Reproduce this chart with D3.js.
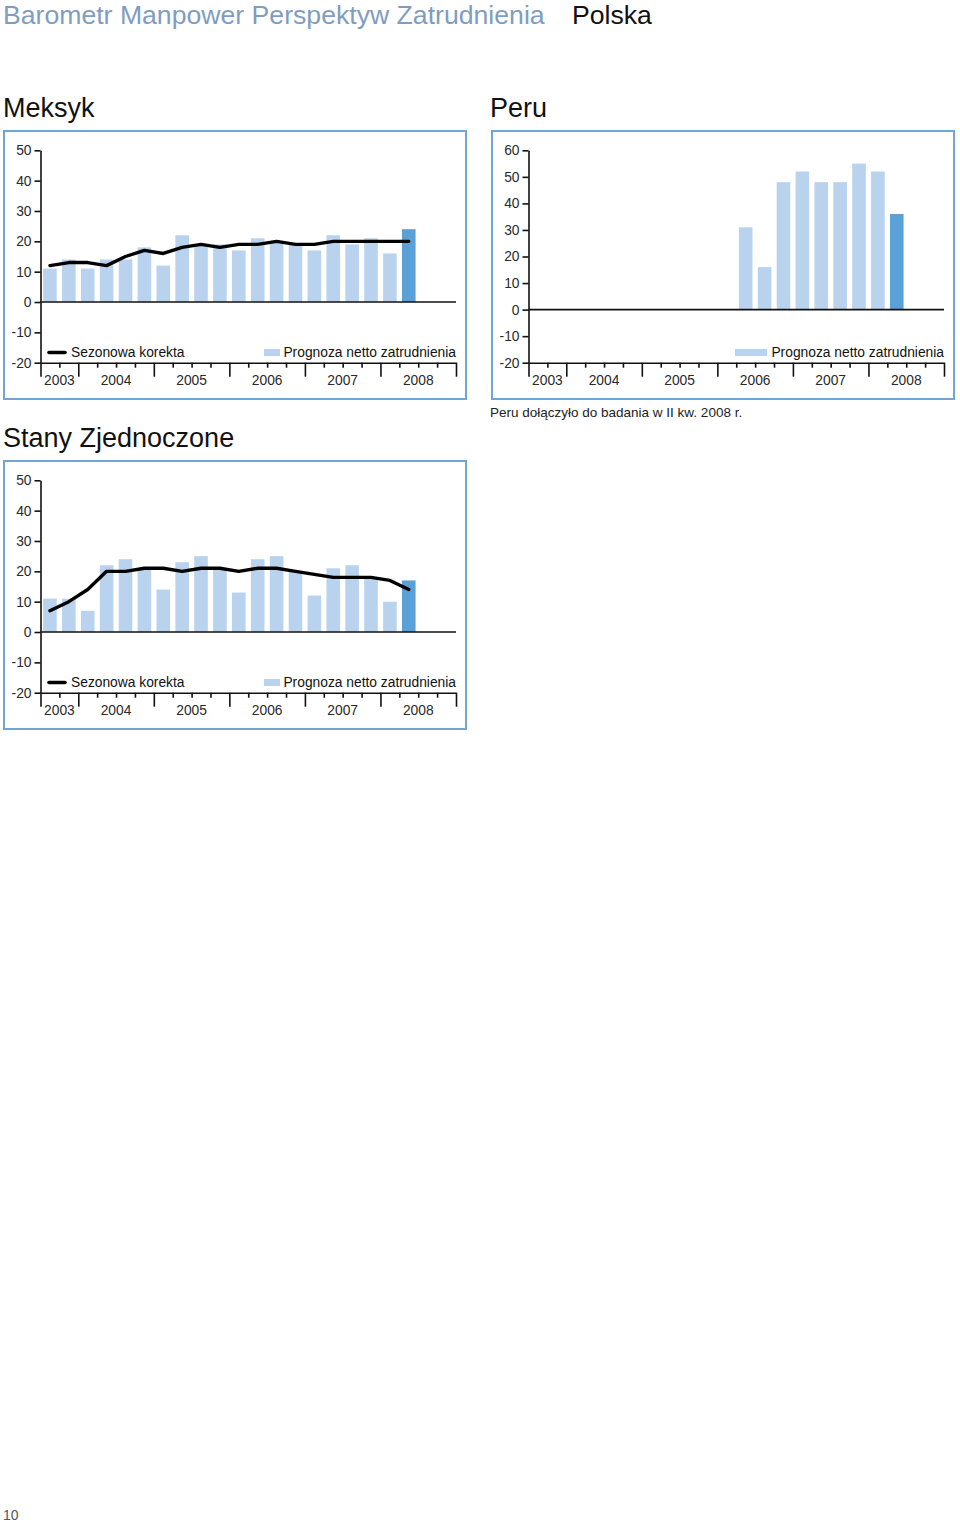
<!DOCTYPE html>
<html>
<head>
<meta charset="utf-8">
<script src="https://cdn.jsdelivr.net/npm/d3@7"></script>
<style>
  html, body { margin: 0; padding: 0; background: #fff; }
  svg { display: block; }
  text { font-family: "Liberation Sans", Arial, Helvetica, sans-serif; }
</style>
</head>
<body>
<svg id="page" width="960" height="1524"></svg>
<script>
// ---------- DATA ----------
const QUARTERS = [
  "2003 III","2003 IV",
  "2004 I","2004 II","2004 III","2004 IV",
  "2005 I","2005 II","2005 III","2005 IV",
  "2006 I","2006 II","2006 III","2006 IV",
  "2007 I","2007 II","2007 III","2007 IV",
  "2008 I","2008 II","2008 III","2008 IV"
];
const YEARS = ["2003","2004","2005","2006","2007","2008"];
const Y_TICKS_50 = [-20,-10,0,10,20,30,40,50];
const Y_TICKS_60 = [-20,-10,0,10,20,30,40,50,60];

const MEXICO_QUARTERS = QUARTERS.slice(0, 20);
const mexicoBars = [11,14,11,14,14,18,12,22,19,19,17,21,20,19,17,22,19,21,16,24];
const mexicoLine = [12,13,13,12,15,17,16,18,19,18,19,19,20,19,19,20,20,20,20,20];

const USA_QUARTERS = QUARTERS.slice(0, 20);
const usaBars = [11,11,7,22,24,21,14,23,25,21,13,24,25,20,12,21,22,18,10,17];
const usaLine = [7,10,14,20,20,21,21,20,21,21,20,21,21,20,19,18,18,18,17,14];

const PERU_QUARTERS = ["2006 II","2006 III","2006 IV","2007 I","2007 II","2007 III","2007 IV","2008 I","2008 II"];
const peruBars = [31,16,48,52,48,48,55,52,36];

const LATEST_QUARTER = "2008 II";

// ---------- STYLE ----------
const C_LIGHT = "#b9d3ee";
const C_DARK = "#5aa1d8";
const C_BORDER = "#6fa6d3";
const C_TITLE = "#7f9dbf";
const C_TEXT = "#2a2a2a";
const FS = 13.8;

const svg = d3.select("#page");

// header
const head = svg.append("text").attr("x", 3).attr("y", 24)
  .attr("font-size", 27).attr("fill", C_TITLE)
  .text("Barometr Manpower Perspektyw Zatrudnienia");
const hw = head.node().getComputedTextLength();
head.attr("font-size", 27 * 542 / hw);
svg.append("text").attr("x", 572).attr("y", 24)
  .attr("font-size", 27 * 542 / hw).attr("fill", "#111")
  .text("Polska");

// footer
svg.append("text").attr("x", 3).attr("y", 1520)
  .attr("font-size", 14).attr("fill", "#555").text("10");

function panel(opt) {
  const g = svg.append("g").attr("transform", `translate(${opt.ox},${opt.oy})`);

  // title
  g.append("text").attr("x", opt.titleX).attr("y", 117 - 130)
    .attr("font-size", 27).attr("fill", "#111").text(opt.title);

  // frame
  g.append("rect").attr("x", 4).attr("y", 1).attr("width", 462).attr("height", 268)
    .attr("fill", "none").attr("stroke", C_BORDER).attr("stroke-width", 2);

  const left = 40.5, right = 456;
  const yBottom = 232.7, yTop = 20.3;
  const y = d3.scaleLinear().domain([-20, opt.yMax]).range([yBottom, yTop]);
  const q = d3.scaleLinear().domain([0, QUARTERS.length]).range([left, right]);
  const x = d3.scaleBand().domain(QUARTERS).range([left, right])
    .paddingInner(0.28).paddingOuter(0.14);

  // bars
  g.append("g").selectAll("rect").data(opt.quarters.map((k, i) => ({k, v: opt.bars[i]})))
    .join("rect")
    .attr("x", d => x(d.k)).attr("width", x.bandwidth())
    .attr("y", d => y(Math.max(0, d.v)))
    .attr("height", d => Math.abs(y(d.v) - y(0)))
    .attr("fill", d => d.k === LATEST_QUARTER ? C_DARK : C_LIGHT);

  // zero line
  g.append("line").attr("x1", left).attr("x2", right)
    .attr("y1", y(0)).attr("y2", y(0))
    .attr("stroke", "#111").attr("stroke-width", 1.6);

  // y axis
  const ya = g.append("g").attr("transform", `translate(${left},0)`)
    .call(d3.axisLeft(y).tickValues(opt.yTicks).tickSize(6).tickSizeOuter(0).tickPadding(3)
      .tickFormat(d => String(d)));
  ya.selectAll("path, line").attr("stroke", "#111").attr("stroke-width", 1.6);
  ya.selectAll("text").attr("font-size", FS).attr("fill", C_TEXT)
    .attr("font-family", '"Liberation Sans", Arial, sans-serif');

  // x axis: quarter ticks, year boundary ticks
  const majors = [0, 2, 6, 10, 14, 18, 22];
  const minors = d3.range(0, 23).filter(i => !majors.includes(i));
  const xa = g.append("g").attr("transform", `translate(0,${yBottom})`);
  xa.call(d3.axisBottom(q).tickValues(majors).tickSize(14).tickSizeOuter(0).tickFormat(""));
  const xm = g.append("g").attr("transform", `translate(0,${yBottom})`);
  xm.call(d3.axisBottom(q).tickValues(minors).tickSize(5).tickSizeOuter(0).tickFormat(""));
  xm.select("path").remove();
  g.selectAll(".tick line, .domain").attr("stroke", "#111").attr("stroke-width", 1.6);
  // year labels
  const yearMid = YEARS.map((yr, i) => ({yr, c: (majors[i] + majors[i + 1]) / 2}));
  g.append("g").selectAll("text").data(yearMid).join("text")
    .attr("x", d => q(d.c)).attr("y", yBottom + 22.5)
    .attr("text-anchor", "middle").attr("font-size", FS).attr("fill", C_TEXT)
    .text(d => d.yr);

  // line
  if (opt.line) {
    const line = d3.line()
      .x((d, i) => x(opt.quarters[i]) + x.bandwidth() / 2)
      .y(d => y(d));
    g.append("path").datum(opt.line).attr("d", line)
      .attr("fill", "none").attr("stroke", "#000").attr("stroke-width", 3.4)
      .attr("stroke-linejoin", "round").attr("stroke-linecap", "round");

    // legend line
    g.append("line").attr("x1", 49).attr("x2", 65).attr("y1", 222.5).attr("y2", 222.5)
      .attr("stroke", "#000").attr("stroke-width", 3.6).attr("stroke-linecap", "round");
    g.append("text").attr("x", 71).attr("y", 227.3).attr("font-size", FS).attr("fill", "#111")
      .text("Sezonowa korekta");
  }
  // legend bar
  g.append("rect").attr("x", opt.swatchX).attr("y", 219).attr("width", opt.swatchW).attr("height", 7)
    .attr("fill", C_LIGHT);
  g.append("text").attr("x", 456).attr("y", 227.3).attr("text-anchor", "end")
    .attr("font-size", FS).attr("fill", "#111").text("Prognoza netto zatrudnienia");

  if (opt.note) {
    g.append("text").attr("x", 2).attr("y", 287).attr("font-size", 13.5).attr("fill", "#222")
      .text(opt.note);
  }
  return g;
}

panel({ ox: 0, oy: 130, title: "Meksyk", titleX: 3, yMax: 50, yTicks: Y_TICKS_50,
  quarters: MEXICO_QUARTERS, bars: mexicoBars, line: mexicoLine, swatchX: 264, swatchW: 16 });
panel({ ox: 488, oy: 130, title: "Peru", titleX: 2, yMax: 60, yTicks: Y_TICKS_60,
  quarters: PERU_QUARTERS, bars: peruBars, line: null, swatchX: 247, swatchW: 32,
  note: "Peru dołączyło do badania w II kw. 2008 r." });
panel({ ox: 0, oy: 460, title: "Stany Zjednoczone", titleX: 3, yMax: 50, yTicks: Y_TICKS_50,
  quarters: USA_QUARTERS, bars: usaBars, line: usaLine, swatchX: 264, swatchW: 16 });
</script>
</body>
</html>
